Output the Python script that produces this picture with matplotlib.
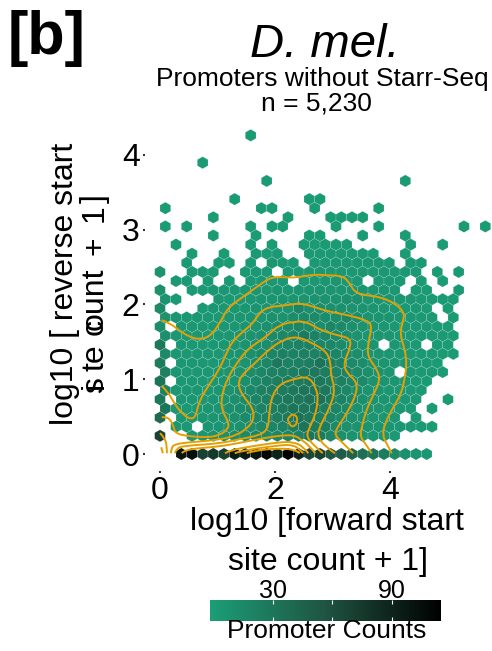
import numpy as np
import matplotlib
matplotlib.use("Agg")
import matplotlib.pyplot as plt
from matplotlib.colors import LinearSegmentedColormap
from matplotlib.patches import PathPatch
from matplotlib.path import Path

plt.rcParams["font.family"] = ["Liberation Sans", "DejaVu Sans"]

# hex grid spacing of the binned data
bin_dx = 0.1855
bin_dy = 0.1217

# promoter counts per hex row, one value per column, 0 = empty bin
row_counts = {
    0: [0, 0, 100, 105, 70, 75, 70, 95, 95, 100, 110, 90, 116, 90, 65, 70, 55, 50, 45, 35, 30, 25, 15, 10, 5, 3],
    2: [70, 0, 0, 3, 4, 8, 10, 12, 14, 16, 14, 16, 18, 20, 30, 26, 16, 10, 8, 6, 4, 3, 2],
    3: [0, 3, 3, 0, 4, 5, 7, 9, 12, 16, 18, 20, 24, 30, 26, 24, 14, 10, 8, 6, 5, 4, 3, 2, 2, 1],
    4: [40, 0, 3, 4, 4, 6, 8, 10, 14, 18, 22, 24, 28, 34, 28, 24, 18, 14, 10, 8, 6, 4, 3, 0, 2],
    5: [30, 3, 3, 4, 5, 6, 9, 12, 15, 20, 24, 26, 30, 28, 30, 24, 18, 14, 10, 8, 6, 4, 3, 2, 0, 1],
    6: [28, 0, 3, 3, 4, 5, 7, 10, 14, 18, 22, 26, 28, 28, 32, 34, 26, 20, 14, 10, 8, 6, 4, 3, 2, 0, 0, 1],
    7: [20, 3, 3, 4, 4, 5, 8, 12, 16, 20, 24, 26, 28, 30, 30, 28, 20, 16, 12, 8, 6, 4, 3, 2, 2],
    8: [32, 0, 3, 3, 3, 4, 5, 7, 10, 14, 20, 24, 26, 26, 28, 28, 24, 22, 18, 14, 8, 6, 4, 3, 2, 1],
    9: [22, 3, 3, 3, 3, 4, 6, 8, 12, 16, 20, 22, 24, 26, 28, 24, 20, 20, 14, 10, 8, 6, 0, 3, 2, 2, 1],
    10: [25, 0, 3, 3, 3, 3, 4, 6, 8, 12, 16, 28, 20, 22, 24, 32, 24, 20, 14, 12, 8, 6, 4, 3, 2, 2, 1],
    11: [15, 3, 3, 3, 3, 3, 5, 7, 10, 14, 18, 22, 20, 22, 20, 24, 18, 14, 12, 8, 6, 4, 3, 2, 2, 2, 1, 1],
    12: [28, 0, 3, 3, 3, 3, 4, 5, 7, 9, 12, 16, 18, 20, 20, 18, 16, 14, 12, 8, 6, 0, 4, 3, 2, 0, 1, 1],
    13: [10, 3, 3, 3, 3, 3, 4, 6, 8, 10, 14, 16, 18, 26, 20, 16, 14, 12, 8, 6, 4, 4, 3, 2, 2, 2, 1, 1],
    14: [12, 0, 3, 3, 3, 3, 3, 4, 5, 7, 9, 12, 14, 16, 14, 12, 16, 14, 10, 8, 6, 4, 3, 3, 2, 2, 1, 1],
    15: [8, 4, 3, 3, 3, 3, 4, 4, 5, 6, 10, 8, 12, 14, 14, 12, 12, 16, 12, 8, 6, 5, 4, 3, 2, 2, 0, 1],
    16: [14, 0, 0, 0, 2, 3, 3, 4, 4, 5, 6, 7, 8, 18, 10, 12, 10, 9, 8, 6, 5, 4, 3, 2, 2, 1, 0, 1],
    17: [6, 2, 0, 0, 0, 4, 3, 3, 3, 5, 5, 6, 6, 6, 7, 8, 7, 10, 9, 6, 5, 5, 4, 3, 2, 2, 1, 1],
    18: [10, 0, 0, 1, 2, 3, 3, 3, 3, 4, 4, 5, 4, 5, 5, 6, 6, 5, 5, 5, 4, 4, 3, 0, 1, 1, 0, 0, 2],
    19: [0, 2, 2, 0, 2, 0, 2, 0, 2, 2, 3, 3, 0, 3, 3, 4, 4, 3, 3, 0, 2, 2, 2, 0, 1, 0, 1],
    20: [6, 0, 0, 2, 2, 2, 0, 0, 2, 2, 2, 0, 2, 2, 3, 3, 3, 3, 3, 4, 3, 3, 2, 2, 2, 0, 1, 0, 2],
    21: [0, 0, 2, 0, 0, 1, 1, 0, 2, 0, 4, 2, 2, 0, 2, 3, 3, 3, 3, 3, 3, 2, 0, 2, 2],
    22: [0, 0, 0, 1, 0, 0, 1, 0, 0, 2, 1, 2, 0, 0, 2, 2, 2, 2, 2, 2, 1, 0, 0, 1],
    23: [0, 1, 0, 0, 0, 0, 0, 0, 1, 0, 1, 0, 0, 1, 1, 1, 1, 1, 0, 0, 0, 0, 0, 1, 0, 0, 1],
    24: [0, 0, 0, 0, 0, 1, 0, 0, 0, 1, 0, 0, 0, 0, 1, 1, 0, 0, 0, 1, 0, 0, 0, 1],
    25: [1, 0, 1, 0, 0, 0, 0, 0, 1, 0, 1, 1, 0, 0, 0, 0, 1, 0, 0, 0, 1, 0, 0, 0, 0, 0, 0, 0, 1, 0, 1],
    26: [0, 0, 0, 0, 0, 1, 0, 0, 0, 0, 0, 0, 1, 0, 0, 0, 1, 1, 1, 1],
    27: [1, 0, 0, 0, 0, 0, 0, 0, 0, 1, 1, 0, 0, 0, 1, 0, 0, 0, 0, 0, 1],
    28: [0, 0, 0, 0, 0, 0, 0, 1, 0, 0, 0, 0, 0, 0, 1, 1],
    30: [0, 0, 0, 0, 0, 0, 0, 0, 0, 0, 1, 0, 0, 0, 0, 0, 0, 0, 0, 0, 0, 0, 0, 1],
    32: [0, 0, 0, 0, 1],
    35: [0, 0, 0, 0, 0, 0, 0, 0, 1],
}

# density contour lines
contour_a_x = [.03, .17, .32, .52, .72, .90, 1.07, 1.16, 1.33, 1.57, 1.80, 1.97, 2.20, 2.38, 2.67, 2.90, 3.19, 3.30, 3.39, 3.59, 3.83, 4.12, 4.25, 4.23, 4.17, 4.26, 4.29, 4.26, 4.20, 4.06, 3.91, 3.87, 3.94, 4.03]
contour_a_y = [1.79, 1.75, 1.66, 1.56, 1.53, 1.59, 1.79, 1.93, 2.04, 2.17, 2.30, 2.37, 2.36, 2.36, 2.40, 2.39, 2.38, 2.28, 2.16, 2.12, 2.10, 2.00, 1.88, 1.79, 1.61, 1.39, 1.21, 1.03, .81, .63, .41, .25, .14, .01]
contour_b_x = [.03, .14, .26, .41, .55, .63, .67, .81, 1.01, 1.16, 1.25, 1.45, 1.62, 1.74, 1.91, 2.14, 2.43, 2.67, 2.90, 3.25, 3.59, 3.69, 3.62, 3.61, 3.77, 3.83, 3.71, 3.59, 3.51, 3.48, 3.59, 3.68]
contour_b_y = [.91, .83, .66, .52, .46, .52, .68, .88, 1.10, 1.35, 1.50, 1.64, 1.75, 1.90, 1.97, 1.98, 2.02, 1.97, 1.91, 1.86, 1.79, 1.72, 1.48, 1.30, 1.14, .99, .79, .59, .37, .23, .12, .01]
contour_c_x = [.03, .14, .23, .26, .46, .81, 1.04, 1.19, 1.19, 1.07, 1.07, 1.16, 1.33, 1.51, 1.71, 1.88, 2.06, 2.32, 2.55, 2.78, 3.07, 3.30, 3.32, 3.19, 3.25, 3.42, 3.42, 3.25, 3.07, 3.04, 3.19, 3.36]
contour_c_y = [.49, .50, .39, .28, .24, .22, .25, .34, .43, .59, .77, .99, 1.21, 1.39, 1.50, 1.59, 1.72, 1.77, 1.77, 1.66, 1.59, 1.55, 1.44, 1.21, 1.08, .97, .81, .54, .34, .25, .14, .01]
contour_d_x = [.19, .20, .28, .41, 1.04, 1.33, 1.51, 1.63, 1.62, 1.45, 1.36, 1.39, 1.62, 1.88, 2.14, 2.38, 2.61, 2.90, 2.97, 2.97, 3.04, 2.99, 2.78, 2.74, 2.84, 3.04]
contour_d_y = [.01, .10, .13, .15, .19, .25, .34, .45, .61, .77, .90, 1.03, 1.19, 1.39, 1.53, 1.57, 1.50, 1.37, 1.21, 1.06, .88, .68, .37, .25, .12, .01]
contour_e_x = [.26, .28, .41, 1.04, 1.39, 1.74, 1.88, 1.90, 1.94, 2.09, 2.32, 2.58, 2.72, 2.75, 2.70, 2.58, 2.55, 2.67, 2.83]
contour_e_y = [.01, .07, .11, .14, .20, .25, .34, .54, .77, .94, 1.0, 1.04, .88, .72, .52, .32, .23, .12, .01]
contour_f_x = [.38, .41, 1.04, 1.39, 1.86, 2.14, 2.32, 2.43, 2.61, 2.70]
contour_f_y = [.01, .06, .10, .15, .22, .25, .25, .21, .10, .01]
contour_g_x = [1.13, 1.22, 1.57, 2.09, 2.32, 2.49, 2.58]
contour_g_y = [.01, .05, .10, .16, .16, .10, .01]
contour_h_x = [1.30, 1.39, 2.09, 2.32, 2.43, 2.49]
contour_h_y = [.01, .04, .12, .12, .06, .01]
contour_i_x = [1.51, 1.59, 2.09, 2.38, 2.43]
contour_i_y = [.01, .04, .08, .05, .01]
contour_loop_x = [2.22, 2.26, 2.35, 2.40, 2.35, 2.26, 2.22]
contour_loop_y = [.46, .52, .53, .46, .37, .37, .46]
contour_left1_x = [.0, .087, .12, .12]
contour_left1_y = [.28, .21, .10, .01]
contour_left2_x = [.02, .05]
contour_left2_y = [.09, .01]

all_contours = [
    (contour_a_x, contour_a_y), (contour_b_x, contour_b_y), (contour_c_x, contour_c_y),
    (contour_d_x, contour_d_y), (contour_e_x, contour_e_y), (contour_f_x, contour_f_y),
    (contour_g_x, contour_g_y), (contour_h_x, contour_h_y), (contour_i_x, contour_i_y),
    (contour_loop_x, contour_loop_y), (contour_left1_x, contour_left1_y),
    (contour_left2_x, contour_left2_y),
]

x_ticks = [0, 2, 4]
y_ticks = [0, 1, 2, 3, 4]
colorbar_ticks = [30, 60, 90]
colorbar_labels = ["30", "", "90"]
count_min = -2
count_max = 115

FIG_W = 492
FIG_H = 651


def fx(px):
    return px / FIG_W


def fy(px):
    return 1 - px / FIG_H


def add_text(px, py, text, size, **kwargs):
    kwargs.setdefault("ha", "center")
    kwargs.setdefault("va", "baseline")
    fig.text(fx(px), fy(py), text, fontsize=size, color="black", **kwargs)


def smooth_path(line_x, line_y):
    # quadratic curve through the read points, the control points stay on the line
    points = np.column_stack([line_x, line_y])
    verts = [points[0]]
    codes = [Path.MOVETO]
    for i in range(1, len(points) - 1):
        end = points[i + 1] if i == len(points) - 2 else (points[i] + points[i + 1]) / 2
        verts.extend([points[i], end])
        codes.extend([Path.CURVE3, Path.CURVE3])
    if len(points) == 2:
        verts.append(points[1])
        codes.append(Path.LINETO)
    return Path(verts, codes)


fig = plt.figure(figsize=(FIG_W / 100, FIG_H / 100), dpi=100)

ax = fig.add_axes([fx(144.5), fy(470.5), fx(492) - fx(144.5), fy(125) - fy(470.5)])

xs, ys, cs = [], [], []
for row, counts in row_counts.items():
    for col, count in enumerate(counts):
        if count > 0:
            xs.append((col + 0.5 * (row % 2)) * bin_dx)
            ys.append(row * bin_dy)
            cs.append(count)

cmap = LinearSegmentedColormap.from_list(
    "counts", [(0, "#1b9e77"), (0.5, "#1f5441"), (1, "#000000")]
)

hb = ax.hexbin(
    xs, ys, C=cs,
    gridsize=(32, 18),
    extent=(0, 32 * bin_dx, 0, 18 * 2 * bin_dy),
    cmap=cmap,
    vmin=count_min,
    vmax=count_max,
    linewidths=0.3,
    edgecolors=(1, 1, 1, 0.3),
)

for line_x, line_y in all_contours:
    ax.add_patch(PathPatch(smooth_path(line_x, line_y), fill=False, edgecolor="#e69f00", linewidth=1.4))

ax.set_xlim((144.5 - 160) / 57.5, (492 - 160) / 57.5)
ax.set_ylim((454 - 470.5) / 74.8, (454 - 125) / 74.8)
ax.set_xticks(x_ticks)
ax.set_yticks(y_ticks)
ax.tick_params(length=1.5, width=1.5, color="#333333", labelsize=23)
ax.tick_params(axis="x", pad=2.5)
ax.tick_params(axis="y", pad=2)
for side in ax.spines.values():
    side.set_visible(False)

# colour bar
cax = fig.add_axes([fx(210), fy(621), fx(441) - fx(210), fy(600) - fy(621)])
cbar = fig.colorbar(hb, cax=cax, orientation="horizontal")
cbar.outline.set_visible(False)
cbar.set_ticks(colorbar_ticks)
cbar.set_ticklabels(colorbar_labels)
cax.tick_params(
    direction="in", length=3, width=0.8, color="white",
    top=True, bottom=True, labeltop=True, labelbottom=False,
    labelsize=18, pad=-2,
)

add_text(8, 54, "[b]", 44, ha="left", fontweight="bold")
add_text(325, 57, "D. mel.", 34, style="italic")
add_text(322, 86, "Promoters without Starr-Seq", 19)
add_text(316, 110, "n = 5,230", 19)
add_text(327, 530, "log10 [forward start", 23)
add_text(328, 570, "site count + 1]", 23)
add_text(327, 638, "Promoter Counts", 19)

add_text(73, 425, "log10 [ reverse start", 23, rotation=90, ha="left", rotation_mode="anchor")

# second y label line, glyphs overlap in the original
ylabel_pieces = [("s", 393), ("i", 389), ("te", 371), ("c", 335), ("ount", 330), ("+", 255), ("1", 222), ("]", 203)]
for piece, start in ylabel_pieces:
    add_text(103, start, piece, 23, rotation=90, ha="left", rotation_mode="anchor")

fig.savefig("out.png", dpi=100)
plt.close(fig)
